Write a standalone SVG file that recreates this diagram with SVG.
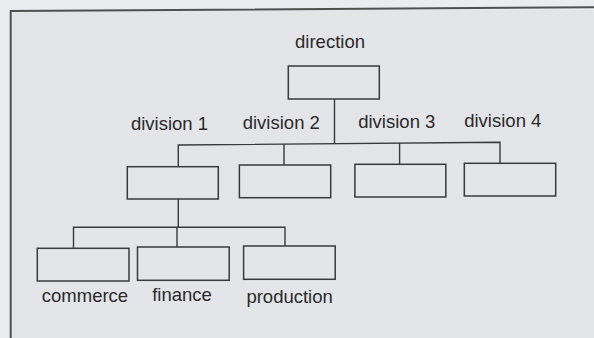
<svg xmlns="http://www.w3.org/2000/svg" width="594" height="338" viewBox="0 0 594 338">
  <style>
    .box { fill: none; stroke: #3a3a3a; stroke-width: 1.5; }
    .wire { fill: none; stroke: #3a3a3a; stroke-width: 1.4; }
    .lbl { font-family: "Liberation Sans", Arial, Helvetica, sans-serif; font-size: 18.5px; fill: #2a2a2a; text-anchor: middle; }
  </style>

  <!-- paper -->
  <rect x="0" y="0" width="594" height="338" fill="#eaecef"/>
  <rect x="11" y="10" width="583" height="328" fill="#e3e5e9"/>
  <path d="M10.7,338 L10.7,11 L594,7.3" fill="none" stroke="#505050" stroke-width="2"/>

  <!-- connectors -->
  <g id="connectors" class="wire">
    <path d="M334.5,99 V144"/>
    <path d="M178.3,166.7 V145 L500,142.3 V163.3"/>
    <path d="M284,144.1 V165"/>
    <path d="M399.6,143.2 V164.3"/>
    <path d="M178.3,199 V227.3"/>
    <path d="M73.5,248.3 V227.3 H285 V246"/>
    <path d="M177,227.3 V247"/>
  </g>

  <g id="direction">
    <rect class="box" x="288.3" y="66" width="91" height="33"/>
    <text class="lbl" x="330" y="47.5">direction</text>
  </g>

  <g id="division-1">
    <rect class="box" x="127.3" y="166.7" width="91" height="32.3"/>
    <text class="lbl" x="169.5" y="130">division 1</text>
  </g>
  <g id="division-2">
    <rect class="box" x="239.4" y="165" width="91.3" height="32.7"/>
    <text class="lbl" x="281.3" y="129">division 2</text>
  </g>
  <g id="division-3">
    <rect class="box" x="354.9" y="164.3" width="90.9" height="32.7"/>
    <text class="lbl" x="396.8" y="128">division 3</text>
  </g>
  <g id="division-4">
    <rect class="box" x="464.3" y="163.3" width="91.4" height="32.7"/>
    <text class="lbl" x="502.8" y="126.8">division 4</text>
  </g>

  <g id="commerce">
    <rect class="box" x="37.3" y="248.3" width="91.7" height="32.7"/>
    <text class="lbl" x="85" y="301.7">commerce</text>
  </g>
  <g id="finance">
    <rect class="box" x="137.5" y="247" width="91.7" height="33.3"/>
    <text class="lbl" x="182" y="300.7">finance</text>
  </g>
  <g id="production">
    <rect class="box" x="243.6" y="246" width="91.6" height="33.3"/>
    <text class="lbl" x="289.6" y="302.5">production</text>
  </g>
</svg>
